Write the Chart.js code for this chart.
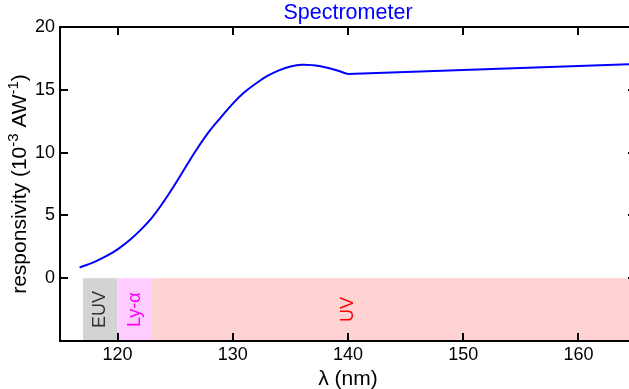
<!DOCTYPE html>
<html>
<head>
<meta charset="utf-8">
<script src="https://cdn.jsdelivr.net/npm/chart.js@4"></script>
<style>
  html, body { margin: 0; padding: 0; background: #fff; overflow: hidden; }
  #wrap { width: 640px; height: 390px; }
</style>
</head>
<body>
<div id="wrap"><canvas id="chart"></canvas></div>
<script>
// responsivity curve (smooth rise up to 140 nm)
const curveNm = [116.7, 118, 119, 120, 121, 122, 123, 124, 125, 126, 127, 128, 129, 130,
  131, 132, 133, 134, 135, 136, 137, 138, 139, 140];
const curveResp = [0.85, 1.3, 1.75, 2.3, 3.0, 3.85, 4.85, 6.1, 7.5, 9.0, 10.45, 11.75, 12.85, 13.9,
  14.8, 15.5, 16.1, 16.55, 16.85, 17.0, 16.95, 16.8, 16.55, 16.25];
// straight part after the kink
const tailNm = [140, 165];
const tailResp = [16.25, 17.05];

const xTicks = [120, 130, 140, 150, 160];
const yTicks = [0, 5, 10, 15, 20];

// spectral bands under the curve
const bandNames = ['EUV', 'Ly-α', 'UV'];
const bandStart = [117, 120, 123];
const bandEnd = [120, 123, 165];
const bandFill = ['#d3d3d3', '#ffccff', '#ffd3d3'];
const bandText = ['#333333', '#ff00ff', '#ff0000'];
const bandLabelAt = [118.5, 121.5, 140];

const font = '"Liberation Sans", Arial, sans-serif';

const decor = {
  id: 'decor',
  beforeDatasetsDraw(chart) {
    const { ctx, scales: { x, y } } = chart;
    const top = y.getPixelForValue(0);
    const bottom = y.getPixelForValue(-5);
    ctx.save();
    bandNames.forEach((name, i) => {
      const x0 = x.getPixelForValue(bandStart[i]);
      const x1 = x.getPixelForValue(bandEnd[i]);
      ctx.fillStyle = bandFill[i];
      ctx.fillRect(x0, top, x1 - x0, bottom - top);
    });
    bandNames.forEach((name, i) => {
      ctx.save();
      ctx.translate(x.getPixelForValue(bandLabelAt[i]), (top + bottom) / 2);
      ctx.rotate(-Math.PI / 2);
      ctx.fillStyle = bandText[i];
      ctx.font = '18px ' + font;
      ctx.textAlign = 'center';
      ctx.textBaseline = 'middle';
      ctx.fillText(name, 0, 0);
      ctx.restore();
    });
    ctx.restore();
  },
  afterDraw(chart) {
    const { ctx, chartArea: a, scales: { x, y } } = chart;
    ctx.save();
    ctx.strokeStyle = '#000';
    ctx.lineWidth = 2;
    ctx.strokeRect(a.left, a.top, a.right - a.left, a.bottom - a.top);
    ctx.beginPath();
    xTicks.forEach(v => {
      const px = Math.round(x.getPixelForValue(v));
      ctx.moveTo(px, a.bottom); ctx.lineTo(px, a.bottom - 8);
      ctx.moveTo(px, a.top); ctx.lineTo(px, a.top + 8);
    });
    yTicks.forEach(v => {
      const py = Math.round(y.getPixelForValue(v));
      ctx.moveTo(a.left, py); ctx.lineTo(a.left + 8, py);
      ctx.moveTo(a.right, py); ctx.lineTo(a.right - 8, py);
    });
    ctx.stroke();

    // title over the plot area
    ctx.fillStyle = '#0000ff';
    ctx.font = '21.5px ' + font;
    ctx.textAlign = 'center';
    ctx.textBaseline = 'middle';
    ctx.fillText('Spectrometer', (a.left + a.right) / 2, 13);

    // y axis title with real superscripts
    const parts = [['responsivity (10', 21, 0], ['-3', 15, -8], [' AW', 21, 0], ['-1', 15, -8], [')', 21, 0]];
    let total = 0;
    parts.forEach(p => { ctx.font = p[1] + 'px ' + font; total += ctx.measureText(p[0]).width; });
    ctx.translate(26, (a.top + a.bottom) / 2);
    ctx.rotate(-Math.PI / 2);
    ctx.fillStyle = '#000';
    ctx.textAlign = 'left';
    ctx.textBaseline = 'alphabetic';
    let cx = -total / 2;
    parts.forEach(p => {
      ctx.font = p[1] + 'px ' + font;
      ctx.fillText(p[0], cx, p[2]);
      cx += ctx.measureText(p[0]).width;
    });
    ctx.restore();
  }
};

new Chart(document.getElementById('chart'), {
  type: 'line',
  data: {
    datasets: [{
      data: curveNm.map((w, i) => ({ x: w, y: curveResp[i] })),
      borderColor: '#0000ff',
      borderWidth: 2,
      pointRadius: 0,
      tension: 0.4,
      fill: false
    }, {
      data: tailNm.map((w, i) => ({ x: w, y: tailResp[i] })),
      borderColor: '#0000ff',
      borderWidth: 2,
      pointRadius: 0,
      tension: 0,
      fill: false
    }]
  },
  options: {
    responsive: true,
    maintainAspectRatio: false,
    animation: false,
    layout: { padding: { top: 27, right: 4, left: 30, bottom: 0 } },
    plugins: { legend: { display: false }, tooltip: { enabled: false } },
    scales: {
      x: {
        type: 'linear',
        min: 115,
        max: 165,
        afterBuildTicks: axis => { axis.ticks = xTicks.map(v => ({ value: v })); },
        grid: { display: false, drawTicks: false },
        border: { display: false },
        ticks: { color: '#000', font: { family: font, size: 18, lineHeight: 1 }, padding: 5 },
        title: { display: true, text: 'λ (nm)', color: '#000', font: { family: font, size: 21, lineHeight: 1 }, padding: { top: 0, bottom: 0 } }
      },
      y: {
        min: -5,
        max: 20,
        afterBuildTicks: axis => { axis.ticks = yTicks.map(v => ({ value: v })); },
        grid: { display: false, drawTicks: false },
        border: { display: false },
        ticks: { color: '#000', font: { family: font, size: 18 }, padding: 5 }
      }
    }
  },
  plugins: [decor]
});
</script>
</body>
</html>
